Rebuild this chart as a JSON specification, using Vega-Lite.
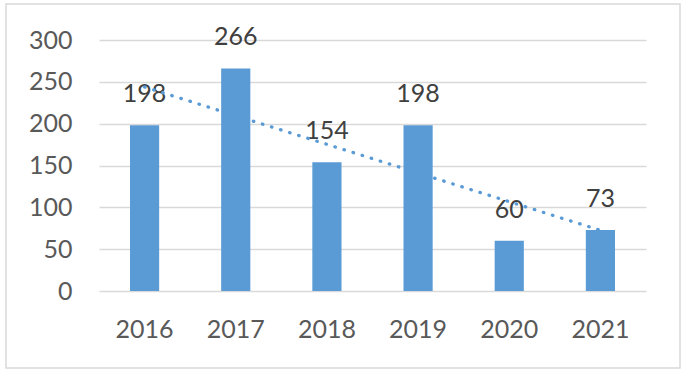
{
  "$schema": "https://vega.github.io/schema/vega-lite/v6.json",
  "autosize": "none",
  "width": 674,
  "height": 364,
  "padding": {"left": 6, "top": 4, "right": 5, "bottom": 7},
  "background": "white",
  "config": {
    "view": {"stroke": "#d9d9d9", "strokeWidth": 1.5},
    "font": "Lato"
  },
  "data": {
    "values": [
      {"year": 2016, "value": 198},
      {"year": 2017, "value": 266},
      {"year": 2018, "value": 154},
      {"year": 2019, "value": 198},
      {"year": 2020, "value": 60},
      {"year": 2021, "value": 73}
    ]
  },
  "encoding": {
    "x": {
      "field": "year",
      "type": "ordinal",
      "scale": {"range": [93, 640], "paddingInner": 0.68, "paddingOuter": 0.34},
      "axis": {
        "title": null,
        "domain": false,
        "ticks": false,
        "tickSize": 0,
        "grid": false,
        "labelAngle": 0,
        "labelFont": "Lato",
        "labelFontSize": 25,
        "labelColor": "#595959",
        "labelBaseline": "middle",
        "labelPadding": -39
      }
    },
    "y": {
      "field": "value",
      "type": "quantitative",
      "scale": {"domain": [0, 300], "range": [287, 36], "nice": false, "zero": true},
      "axis": {
        "title": null,
        "domain": false,
        "ticks": false,
        "tickSize": 0,
        "values": [0, 50, 100, 150, 200, 250, 300],
        "grid": true,
        "gridColor": "#d9d9d9",
        "gridWidth": 1.5,
        "labelFont": "Lato",
        "labelFontSize": 25,
        "labelColor": "#595959",
        "labelPadding": -66,
        "labelAlign": "right",
        "labelBaseline": "middle"
      }
    }
  },
  "layer": [
    {"mark": {"type": "bar", "color": "#5b9bd5"}},
    {
      "mark": {"type": "text", "dy": -31, "fontSize": 25, "font": "Lato", "color": "#404040", "baseline": "middle"},
      "encoding": {"text": {"field": "value", "type": "quantitative"}}
    },
    {
      "transform": [{"regression": "value", "on": "year"}],
      "mark": {"type": "line", "color": "#5b9bd5", "strokeWidth": 3.3, "strokeDash": [0.5, 9], "strokeCap": "round"}
    }
  ]
}
